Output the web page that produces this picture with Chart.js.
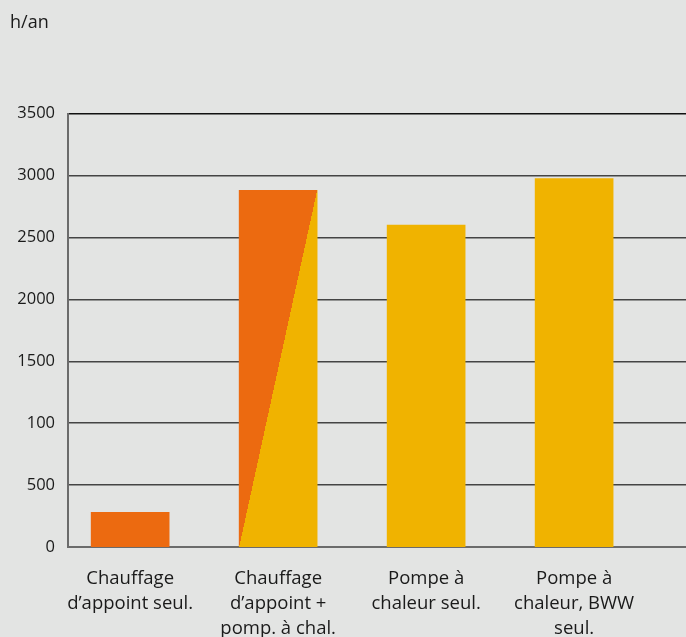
<!DOCTYPE html>
<html>
<head>
<meta charset="utf-8">
<script src="https://cdn.jsdelivr.net/npm/chart.js@4/dist/chart.umd.min.js"></script>
<style>
    html, body { margin: 0; padding: 0; background: #e3e4e3; }
    canvas { display: block; }
</style>
</head>
<body>
<canvas id="hoursChart" width="686" height="637"></canvas>
<script>
// categories (multi-line x labels)
var categories = [
    ["Chauffage", "d\u2019appoint seul."],
    ["Chauffage", "d\u2019appoint +", "pomp. \u00e0 chal."],
    ["Pompe \u00e0", "chaleur seul."],
    ["Pompe \u00e0", "chaleur, BWW", "seul."]
];
// hours per year
var hoursPerYear = [280, 2880, 2600, 2975];
// y tick values and the labels printed in the original (note "100")
var yTickValues = [0, 500, 1000, 1500, 2000, 2500, 3000, 3500];
var yTickLabels = ["0", "500", "100", "1500", "2000", "2500", "3000", "3500"];

var ORANGE = "#ec6a10";
var YELLOW = "#f0b300";
var BAR_W = 78;

function barColor(context) {
    var i = context.dataIndex;
    if (i === 0) return ORANGE;
    if (i !== 1) return YELLOW;
    var chart = context.chart;
    var xs = chart.scales.x, ys = chart.scales.y;
    if (!xs || !ys || !chart.chartArea) return YELLOW;
    var cx = xs.getPixelForValue(i);
    var L = cx - BAR_W / 2, R = cx + BAR_W / 2;
    var T = ys.getPixelForValue(hoursPerYear[i]);
    var B = ys.getPixelForValue(0);
    var w = R - L, h = B - T;
    // normal to the diagonal from bottom-left to top-right
    var len = Math.sqrt(w * w + h * h);
    var nx = h / len, ny = w / len;
    var mx = (L + R) / 2, my = (T + B) / 2;
    var s = 100;
    var g = chart.ctx.createLinearGradient(mx - nx * s, my - ny * s, mx + nx * s, my + ny * s);
    g.addColorStop(0, ORANGE);
    g.addColorStop(0.5, ORANGE);
    g.addColorStop(0.5, YELLOW);
    g.addColorStop(1, YELLOW);
    return g;
}

var ctx = document.getElementById("hoursChart");
var myBarChart = new Chart(ctx, {
    type: "bar",
    data: {
        datasets: [
            {
                data: hoursPerYear.map(function (v, i) { return { x: i, y: v }; }),
                backgroundColor: barColor,
                borderWidth: 0,
                barThickness: BAR_W,
            },
        ],
    },
    options: {
        responsive: false,
        animation: false,
        layout: { padding: { left: 10, right: 0, top: 0, bottom: 0 } },
        plugins: {
            legend: { display: false },
            tooltip: { enabled: false },
            title: {
                display: true,
                text: "h/an",
                align: "start",
                color: "#1a1a1a",
                font: { family: "Open Sans", size: 18, weight: "normal", lineHeight: 1.2 },
                padding: { top: 12, bottom: 80 },
            },
        },
        scales: {
            x: {
                type: "linear",
                offset: false,
                min: -0.42,
                max: 3.756,
                afterBuildTicks: function (axis) {
                    axis.ticks = categories.map(function (c, i) { return { value: i }; });
                },
                afterFit: function (scale) { scale.height = 90; },
                grid: { display: false, drawTicks: false },
                border: { color: "#6b6b6b", width: 2 },
                ticks: {
                    color: "#1a1a1a",
                    padding: 19,
                    maxRotation: 0,
                    autoSkip: false,
                    font: { family: "Open Sans", size: 18.5, lineHeight: 1.35 },
                    callback: function (value) { return categories[value]; },
                },
            },
            y: {
                min: 0,
                max: 3500,
                afterBuildTicks: function (axis) {
                    axis.ticks = yTickValues.map(function (v) { return { value: v }; });
                },
                afterFit: function (scale) { scale.width = 58; },
                grid: {
                    drawTicks: false,
                    color: function (c) { return c.tick && c.tick.value === 3500 ? "#111" : "#444"; },
                    lineWidth: function (c) { return c.tick && c.tick.value === 0 ? 0 : 1.5; },
                },
                border: { color: "#6b6b6b", width: 2 },
                ticks: {
                    color: "#1a1a1a",
                    padding: 13,
                    font: { family: "Open Sans", size: 16.5 },
                    callback: function (value) {
                        var k = yTickValues.indexOf(value);
                        return k >= 0 ? yTickLabels[k] : "";
                    },
                },
            },
        },
    },
});
</script>
</body>
</html>
